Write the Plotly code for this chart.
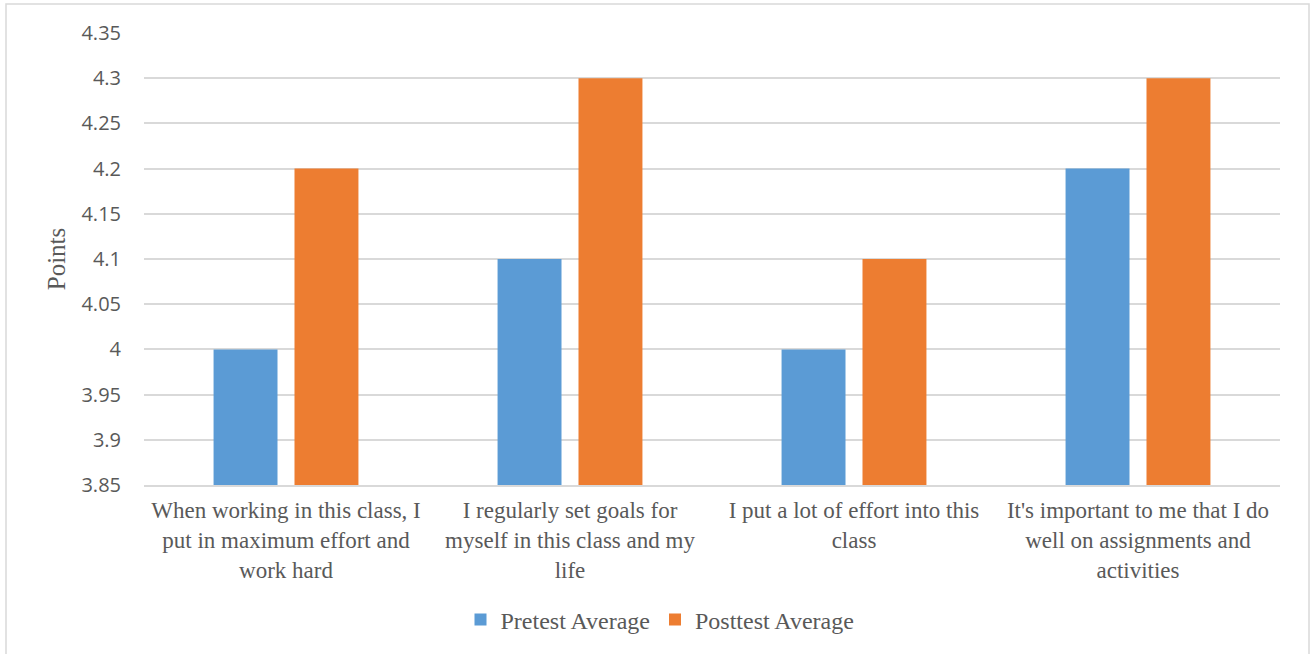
import plotly.graph_objects as go

categories = [
    "When working in this class, I<br>put in maximum effort and<br>work hard",
    "I regularly set goals for<br>myself in this class and my<br>life",
    "I put a lot of effort into this<br>class",
    "It's important to me that I do<br>well on assignments and<br>activities",
]
pretest = [4.0, 4.1, 4.0, 4.2]
posttest = [4.2, 4.3, 4.1, 4.3]
tick_vals = [3.85, 3.9, 3.95, 4.0, 4.05, 4.1, 4.15, 4.2, 4.25, 4.3, 4.35]
tick_text = ["3.85", "3.9", "3.95", "4", "4.05", "4.1", "4.15", "4.2", "4.25", "4.3", "4.35"]

serif = "Liberation Serif"
gray = "#595959"

fig = go.Figure()
fig.add_trace(go.Bar(name="Pretest Average", x=categories, y=pretest,
                     marker=dict(color="#5B9BD5", line=dict(width=0))))
fig.add_trace(go.Bar(name="Posttest Average", x=categories, y=posttest,
                     marker=dict(color="#ED7D31", line=dict(width=0))))

L, R, T, B = 144, 32, 33, 169
W, H = 1312, 654
pw, ph = W - L - R, H - T - B

def px_x(p):
    return (p - L) / pw

def px_y(p):
    return (H - B - p) / ph

fig.update_layout(
    width=W, height=H,
    margin=dict(l=L, r=R, t=T, b=B),
    paper_bgcolor="white", plot_bgcolor="white",
    barmode="group", bargap=0.43, bargroupgap=0.21,
    showlegend=True,
    legend=dict(orientation="h", x=px_x(660), y=px_y(620), xanchor="center", yanchor="middle",
                font=dict(family=serif, size=24, color=gray), itemwidth=30,
                traceorder="normal"),
    xaxis=dict(type="category", showgrid=False, showline=True, linecolor="#d9d9d9", linewidth=1.5,
               ticks="", tickfont=dict(family=serif, size=23, color=gray), tickangle=0,
               ticklabelstandoff=4),
    yaxis=dict(range=[3.85, 4.35], tickvals=tick_vals, ticktext=tick_text,
               showgrid=True, gridcolor="#d9d9d9", gridwidth=1.5, zeroline=False, showline=False,
               ticks="", ticklabelstandoff=22,
               tickfont=dict(family="Open Sans", size=20, color=gray),
               title=dict(text="Points", font=dict(family=serif, size=25, color=gray), standoff=8)),
    shapes=[dict(type="rect", xref="paper", yref="paper",
                 x0=px_x(6), x1=px_x(1309), y0=px_y(660), y1=px_y(4),
                 line=dict(color="#d9d9d9", width=1.5), fillcolor="rgba(0,0,0,0)", layer="below")],
)

fig.write_html("out.html")
